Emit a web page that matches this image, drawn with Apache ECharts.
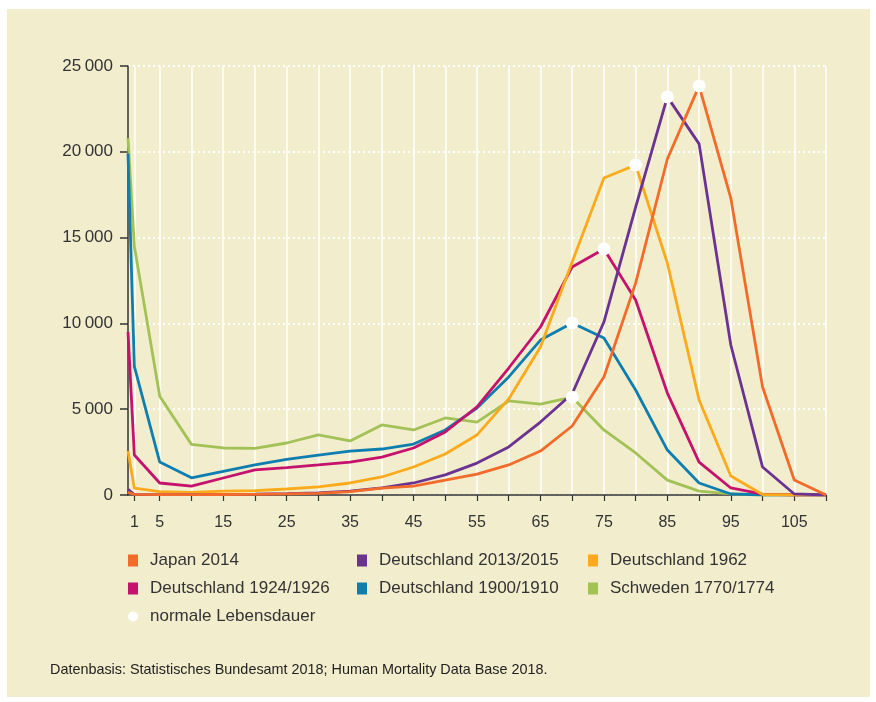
<!DOCTYPE html>
<html>
<head>
<meta charset="utf-8">
<style>
  html, body { margin: 0; padding: 0; background: #fff; }
  #chart { width: 876px; height: 702px; }
</style>
<script src="https://cdn.jsdelivr.net/npm/echarts@6/dist/echarts.min.js"></script>
</head>
<body>
<div id="chart"></div>
<script>
// Alter in Jahren
const ages = [0, 1, 5, 10, 15, 20, 25, 30, 35, 40, 45, 50, 55, 60, 65, 70, 75, 80, 85, 90, 95, 100, 105, 110]

// Gestorbene je Alter (von 100 000)
const japan2014 = [150, 40, 20, 20, 30, 40, 60, 100, 200, 400, 520, 870, 1220, 1750, 2560, 4020, 6880, 12350, 19580, 23840, 17300, 6290, 870, 0]
const de2013 = [330, 30, 20, 20, 30, 50, 80, 120, 230, 410, 700, 1170, 1860, 2800, 4250, 5900, 10080, 16780, 23200, 20460, 8740, 1630, 60, 0]
const de1962 = [2560, 400, 200, 150, 230, 250, 350, 470, 700, 1050, 1630, 2390, 3500, 5600, 8630, 13580, 18470, 19230, 13520, 5540, 1110, 30, 0, 0]
const de1924 = [9500, 2330, 700, 520, 990, 1460, 1600, 1750, 1920, 2210, 2740, 3670, 5130, 7400, 9790, 13290, 14340, 11360, 5940, 1920, 410, 50, 0, 0]
const de1900 = [19900, 7500, 1920, 1000, 1380, 1750, 2070, 2330, 2560, 2680, 2970, 3790, 5070, 6880, 9030, 10020, 9150, 6120, 2620, 700, 60, 0, 0, 0]
const schweden1770 = [20800, 14500, 5750, 2950, 2740, 2720, 3030, 3500, 3150, 4080, 3790, 4490, 4250, 5480, 5300, 5700, 3790, 2450, 870, 230, 60, 0, 0, 0]

// normale Lebensdauer (Punkte)
const normalAges = [90, 85, 80, 75, 70, 70]
const normalValues = [23840, 23200, 19230, 14340, 10020, 5700]

// Achsen
const xLabelValues = [1, 5, 15, 25, 35, 45, 55, 65, 75, 85, 95, 105]
const xTickValues = [1, 5, 10, 15, 20, 25, 30, 35, 40, 45, 50, 55, 60, 65, 70, 75, 80, 85, 90, 95, 100, 105, 110]

const FONT = `'Liberation Sans', Arial, Helvetica, sans-serif`

const seriesDefs = [
  { name: 'Schweden 1770/1774', color: '#A2C257', data: schweden1770 },
  { name: 'Deutschland 1900/1910', color: '#0E7EB0', data: de1900 },
  { name: 'Deutschland 1924/1926', color: '#C4126D', data: de1924 },
  { name: 'Deutschland 1962', color: '#FBAA1B', data: de1962 },
  { name: 'Deutschland 2013/2015', color: '#6B3391', data: de2013 },
  { name: 'Japan 2014', color: '#F26B2A', data: japan2014 }
]

const chart = echarts.init(document.getElementById('chart'))

const legendBase = {
  orient: 'vertical',
  top: 552,
  padding: 0,
  itemWidth: 10,
  itemHeight: 12,
  itemGap: 11,
  icon: 'rect',
  selectedMode: false,
  textStyle: {
    color: '#333',
    fontSize: 17,
    fontFamily: FONT,
    padding: [0, 0, 0, 7]
  }
}

const option = {
  animation: false,
  backgroundColor: '#fff',
  graphic: [{
    type: 'rect',
    z: -10,
    silent: true,
    shape: { x: 7, y: 9, width: 863, height: 688 },
    style: { fill: '#F2EDCC' }
  }],
  title: {
    text: 'Datenbasis: Statistisches Bundesamt 2018; Human Mortality Data Base 2018.',
    left: 50,
    top: 663,
    padding: 0,
    textStyle: {
      color: '#222',
      fontSize: 14.4,
      fontWeight: 'normal',
      fontFamily: FONT
    }
  },
  legend: [
    Object.assign({}, legendBase, {
      left: 128,
      data: ['Japan 2014', 'Deutschland 1924/1926', { name: 'normale Lebensdauer', icon: 'circle' }]
    }),
    Object.assign({}, legendBase, {
      left: 357,
      data: ['Deutschland 2013/2015', 'Deutschland 1900/1910']
    }),
    Object.assign({}, legendBase, {
      left: 588,
      data: ['Deutschland 1962', 'Schweden 1770/1774']
    })
  ],
  grid: {
    left: 128,
    right: 50,
    top: 66,
    bottom: 207,
    containLabel: false
  },
  xAxis: {
    type: 'value',
    min: 0,
    max: 110,
    interval: 5,
    axisLine: {
      lineStyle: { color: '#333', width: 1.5 }
    },
    axisTick: {
      show: true,
      length: 6,
      customValues: xTickValues,
      lineStyle: { color: '#333', width: 1.2 }
    },
    axisLabel: {
      customValues: xLabelValues,
      margin: 20,
      color: '#333',
      fontSize: 16,
      fontFamily: FONT
    },
    splitLine: {
      show: true,
      lineStyle: { color: '#fff', width: 1.5 }
    }
  },
  yAxis: {
    type: 'value',
    min: 0,
    max: 25000,
    interval: 5000,
    axisLine: {
      show: true,
      lineStyle: { color: '#333', width: 1.5 }
    },
    axisTick: {
      show: true,
      length: 8,
      lineStyle: { color: '#333', width: 1.5 }
    },
    axisLabel: {
      margin: 15,
      color: '#333',
      fontSize: 17,
      fontFamily: FONT,
      formatter: v => String(v).replace(/\B(?=(\d{3})+(?!\d))/g, '\u2009')
    },
    splitLine: {
      show: true,
      lineStyle: { color: '#fff', width: 2, type: [2, 3] }
    }
  },
  series: seriesDefs.map(s => ({
    name: s.name,
    type: 'line',
    symbol: 'none',
    color: s.color,
    lineStyle: { width: 2.8, color: s.color },
    data: ages.map((a, i) => [a, s.data[i]])
  })).concat([{
    name: 'normale Lebensdauer',
    type: 'scatter',
    symbol: 'circle',
    symbolSize: 13,
    z: 10,
    itemStyle: { color: '#fff', opacity: 1 },
    data: normalAges.map((a, i) => [a, normalValues[i]])
  }])
}

chart.setOption(option)
</script>
</body>
</html>
